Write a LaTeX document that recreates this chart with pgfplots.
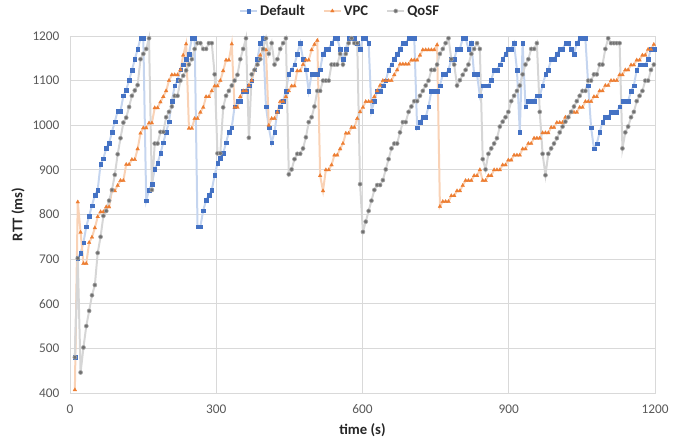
\documentclass[border=0pt]{standalone}
\usepackage{fontspec}
\setmainfont{Carlito}
\usepackage{pgfplots}
\usepackage{pgfplotstable}
\pgfplotsset{compat=1.18}
\definecolor{dblue}{HTML}{4472C4}
\definecolor{lblue}{HTML}{C5D5EF}
\definecolor{dorange}{HTML}{ED7D31}
\definecolor{lorange}{HTML}{F9D2B6}
\definecolor{dgray}{HTML}{707070}
\definecolor{mgray}{HTML}{A6A6A6}
\definecolor{lgray}{HTML}{D6D6D6}
\definecolor{txt}{HTML}{595959}
\definecolor{gridc}{HTML}{D9D9D9}

\pgfplotstableread{
t D V Q
10 480 407 480
15.9 702 828 702
21.7 714 760 446
27.6 737 690 502
33.4 773 690 550
39.3 797 737 584
45.1 820 749 619
51.0 844 770 642
56.8 855 795 714
62.7 913 806 750
68.5 925 806 797
74.4 949 817 808
80.2 960 817 831
86.1 985 853 855
91.9 1008 853 889
97.8 1032 865 935
103.6 1032 876 971
109.5 1066 876 1006
115.3 1079 912 1017
121.2 1101 912 1041
127.0 1123 923 1066
132.9 1148 923 1078
138.7 1170 947 1090
144.6 1195 982 1148
150.4 1195 994 1160
156.3 831 994 1171
162.1 855 1005 1195
168.0 868 1005 855
173.8 902 1039 959
179.7 915 1039 959
185.5 937 1052 985
191.4 961 1064 985
197.2 985 1077 1018
203.1 1008 1100 1030
208.9 1054 1113 1042
214.8 1089 1113 1066
220.6 1101 1113 1066
226.5 1125 1124 1100
232.3 1136 1157 1111
238.2 1148 1182 1123
244.0 1160 993 1136
249.9 1195 993 1148
255.7 1195 1015 1171
261.6 773 1015 1184
267.4 773 1029 1184
273.3 809 1040 1171
279.1 832 1064 1171
285.0 844 1064 1184
290.8 855 1077 1184
296.7 888 1088 1114
302.5 915 1088 937
308.4 926 1100 937
314.2 937 1122 1040
320.1 961 1146 1066
325.9 985 1146 1077
331.8 995 1182 1089
337.6 1042 1040 1100
343.5 1054 1040 1113
349.3 1054 1064 1148
355.2 1077 1077 1171
361.0 1077 1077 1195
366.9 1089 1089 972
372.7 1100 1100 1114
378.6 1125 1124 1124
384.4 1148 1136 1136
390.3 1184 1157 1148
396.1 1195 1169 1171
402.0 1042 1169 1195
407.8 995 1000 1160
413.7 961 1015 1184
419.5 985 1015 1136
425.4 1031 1029 1148
431.2 1042 1053 1171
437.1 1054 1053 1184
442.9 1077 1064 1195
448.8 1114 1077 890
454.6 1125 1088 901
460.5 1136 1088 924
466.3 1160 1122 936
472.2 1184 1122 936
478.0 1148 1136 948
483.9 1125 1146 973
489.7 1077 1146 1007
495.6 1114 1169 1018
501.4 1114 1181 1042
507.3 1114 1190 1077
513.1 1125 887 1077
519.0 1160 853 1100
524.8 1171 900 1100
530.7 1171 900 1100
536.5 1184 911 1136
542.4 1195 933 1136
548.2 1195 933 1136
554.1 1171 947 1160
559.9 1148 959 1136
565.8 1171 982 1160
571.6 1195 982 1184
577.5 1195 995 1195
583.3 1195 995 1184
589.2 1184 1015 1184
595.0 1171 1030 868
600.9 1195 1040 761
606.7 1195 1053 784
612.6 1184 1053 808
618.4 1032 1053 831
624.3 1054 1064 855
630.1 1077 1077 866
636.0 1077 1089 866
641.8 1089 1100 877
647.7 1100 1100 901
653.5 1124 1100 924
659.4 1136 1100 948
665.2 1148 1113 959
671.1 1160 1124 959
676.9 1171 1137 984
682.8 1184 1137 1007
688.6 1184 1137 1007
694.5 1195 1137 1030
700.3 1195 1146 1042
706.2 1195 1146 1054
712.0 995 1146 1054
717.9 1007 1157 1066
723.7 1018 1169 1077
729.6 1018 1169 1089
735.4 1042 1169 1100
741.3 1077 1169 1124
747.1 1077 1169 1124
753.0 1077 1180 1136
758.8 1089 818 1160
764.7 1114 829 1171
770.5 1114 829 1184
776.4 1124 829 1195
782.2 1148 842 1148
788.1 1148 842 1136
793.9 1171 853 1089
799.8 1171 853 1101
805.6 1195 865 1113
811.5 1195 876 1124
817.3 1171 876 1136
823.2 1184 876 1160
829.0 1114 887 1171
834.9 1114 887 1184
840.7 1066 900 1171
846.6 1089 876 924
852.4 1089 876 901
858.3 1089 887 936
864.1 1101 887 948
870.0 1124 900 959
875.8 1124 900 971
881.7 1136 900 997
887.5 1148 911 1008
893.4 1160 911 1018
899.2 1171 922 1030
905.1 1171 922 1054
910.9 1184 933 1066
916.8 1124 933 1077
922.6 985 933 1089
928.5 1184 947 1114
934.3 1042 947 1136
940.2 1054 959 1148
946.0 1054 959 1171
951.9 1054 971 1171
957.7 1066 971 1184
963.6 1066 971 1030
969.4 1089 983 936
975.3 1114 983 888
981.1 1124 983 936
987.0 1148 995 948
992.8 1148 995 959
998.7 1160 1006 971
1004.5 1171 1006 984
1010.4 1171 1006 997
1016.2 1184 1018 1008
1022.1 1184 1018 1018
1027.9 1171 1029 1030
1033.8 1160 1029 1042
1039.6 1184 1029 1054
1045.5 1195 1040 1066
1051.3 1195 1040 1077
1057.2 1195 1053 1077
1063.0 1089 1053 1100
1068.9 995 1053 1100
1074.7 948 1064 1114
1080.6 959 1064 1114
1086.4 984 1077 1136
1092.3 1007 1077 1136
1098.1 1018 1089 1171
1104.0 1018 1089 1195
1109.8 1030 1100 1184
1115.7 1030 1100 1184
1121.5 1030 1100 1184
1127.4 1042 1113 1184
1133.2 1054 1113 948
1139.1 1054 1124 984
1144.9 1054 1124 997
1150.8 1077 1135 1018
1156.6 1089 1135 1030
1162.5 1124 1146 1054
1168.3 1136 1146 1066
1174.2 1136 1157 1077
1180.0 1136 1157 1100
1185.9 1148 1170 1100
1191.7 1171 1170 1124
1197.6 1171 1181 1136
}\rtt

\begin{document}
\begin{tikzpicture}
\useasboundingbox (-70pt,-48pt) rectangle (614pt,393pt);
\begin{axis}[
  at={(0,0)}, anchor=south west,
  scale only axis, width=585pt, height=357pt,
  xmin=0, xmax=1200, ymin=400, ymax=1200,
  xtick={0,300,...,1200}, ytick={400,500,...,1200},
  grid=major, grid style={draw=gridc, line width=0.8pt},
  axis line style={draw=gridc, line width=0.8pt},
  major tick length=0pt,
  tick label style={font=\fontsize{13.3}{16}\selectfont, text=txt},
  yticklabel style={xshift=-7pt},
  xticklabel style={yshift=-8pt},
  /pgf/number format/assume math mode=true,
  /pgf/number format/1000 sep={},
  xlabel={time (s)}, ylabel={RTT (ms)},
  label style={font=\fontsize{14.7}{17}\selectfont\bfseries, text=black!85},
  xlabel style={at={(axis description cs:0.5,-0.1036)}, anchor=center},
  ylabel style={at={(axis description cs:-0.0889,0.5)}, anchor=center},
  legend style={at={(0.4615,1.07)}, anchor=center, draw=none, fill=none,
    legend columns=3, font=\fontsize{14.7}{17}\selectfont\bfseries, text=black!85,
    /tikz/every even column/.append style={column sep=16pt}},
  clip=false,
]
\addplot[lblue, line width=2pt, mark=square*, mark size=1.8pt,
  mark options={fill=dblue, draw=dblue, line width=0.2pt}] table[x=t, y=D]{\rtt};
\addplot[lorange, line width=2pt, mark=triangle*, mark size=2.2pt,
  mark options={fill=dorange, draw=dorange, line width=0.2pt}] table[x=t, y=V]{\rtt};
\addplot[lgray, line width=2pt, mark=*, mark size=2pt,
  mark options={fill=dgray, draw=mgray, line width=0.6pt}] table[x=t, y=Q]{\rtt};
\legend{Default, VPC, QoSF}
\end{axis}
\end{tikzpicture}
\end{document}
